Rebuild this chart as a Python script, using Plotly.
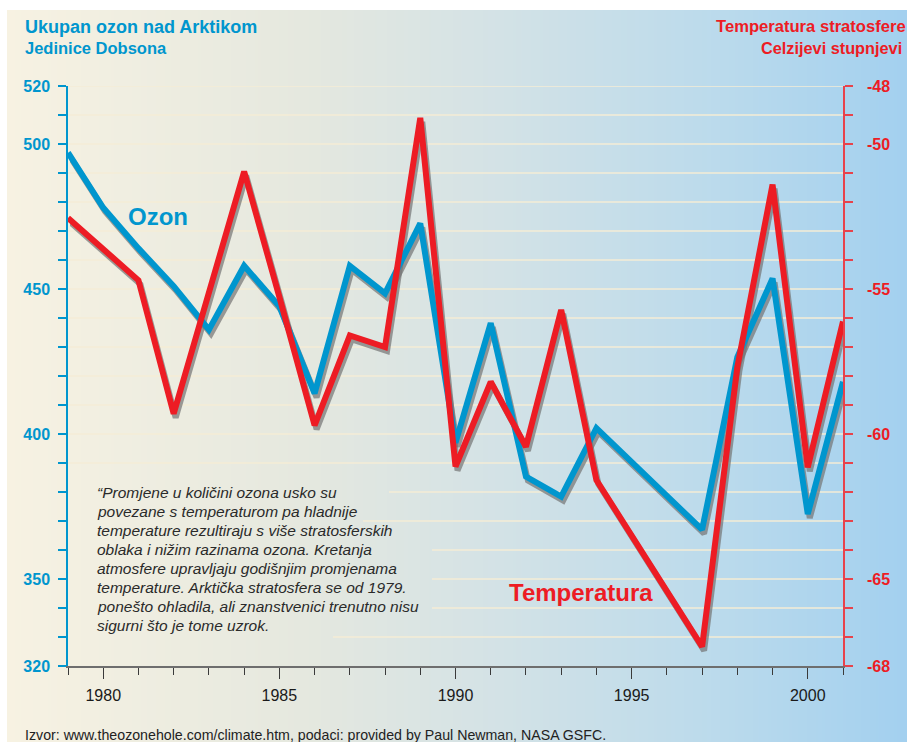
import base64
import struct
import zlib

import plotly.graph_objects as go

# ---------------- data ----------------
years = list(range(1979, 2002))
ozone_du = [497, 478, 464, 451, 436, 458, 444, 414, 458, 448.5, 472.6, 397, 438.2,
            385.3, 378.4, 402, None, None, 367, 426.5, 453.6, 372.4, 418]
temp_c = [-52.55, -53.6, -54.7, -59.3, -55.1, -50.95, -55.27, -59.7, -56.6, -57.0,
          -49.1, -61.12, -58.2, -60.44, -55.72, -61.59, None, None, -67.33, -57.7,
          -51.4, -61.15, -56.12]

ozone_ticks = [320, 350, 400, 450, 500, 520]
temp_ticks = [-68, -65, -60, -55, -50, -48]
temp_ticktext = ["-68", "-65", "-60", "-55", "-50", "-48"]
grid_values = [330, 340, 350, 360, 370, 380, 390, 400, 410, 420, 430, 440, 450,
               460, 470, 480, 490, 500, 510, 520]

title_left = ["Ukupan ozon nad Arktikom", "Jedinice Dobsona"]
title_right = ["Temperatura stratosfere", "Celzijevi stupnjevi"]
quote_lines = [
    "“Promjene u količini ozona usko su",
    "povezane s temperaturom pa hladnije",
    "temperature rezultiraju s više stratosferskih",
    "oblaka i nižim razinama ozona. Kretanja",
    "atmosfere upravljaju godišnjim promjenama",
    "temperature. Arktička stratosfera se od 1979.",
    "ponešto ohladila, ali znanstvenici trenutno nisu",
    "sigurni što je tome uzrok.",
]
source_text = "Izvor: www.theozonehole.com/climate.htm, podaci: provided by Paul Newman, NASA GSFC."

# ---------------- style ----------------
W, H = 907, 742
L, T = 68, 86
PW, PH = 777, 584          # plot area incl. shadow offset
DX, DY = 2, 4              # shadow offset in px
BLUE = "#0096CE"
RED = "#ED1C24"
RED_AXIS = "#E8424B"
SHADOW = "rgba(115,115,115,0.7)"
FONT = "Liberation Sans"


def px(x):
    return (x - L) / PW


def py(y):
    return (T + PH - y) / PH


def gradient_png(stops, w=300):
    row = b"\x00"
    for i in range(w):
        t = i / (w - 1)
        for k in range(len(stops) - 1):
            t0, c0 = stops[k]
            t1, c1 = stops[k + 1]
            if t0 <= t <= t1:
                f = (t - t0) / (t1 - t0)
                c = [round(c0[j] + (c1[j] - c0[j]) * f) for j in range(3)]
                break
        row += bytes(c)

    def chunk(tag, data):
        return (struct.pack(">I", len(data)) + tag + data
                + struct.pack(">I", zlib.crc32(tag + data) & 0xFFFFFFFF))

    png = (b"\x89PNG\r\n\x1a\n"
           + chunk(b"IHDR", struct.pack(">IIBBBBB", w, 1, 8, 2, 0, 0, 0))
           + chunk(b"IDAT", zlib.compress(row))
           + chunk(b"IEND", b""))
    return "data:image/png;base64," + base64.b64encode(png).decode()


bg = gradient_png([
    (0.0, (247, 242, 226)),
    (0.33, (229, 232, 223)),
    (0.55, (211, 226, 230)),
    (0.8, (186, 218, 236)),
    (1.0, (163, 208, 239)),
])

fig = go.Figure()

# shadows (first subplot, drawn underneath)
fig.add_trace(go.Scatter(x=years, y=ozone_du, xaxis="x", yaxis="y", mode="lines",
                         connectgaps=True, line=dict(color=SHADOW, width=6),
                         hoverinfo="skip", showlegend=False))
fig.add_trace(go.Scatter(x=years, y=temp_c, xaxis="x", yaxis="y2", mode="lines",
                         connectgaps=True, line=dict(color=SHADOW, width=6),
                         hoverinfo="skip", showlegend=False))
# main lines (second subplot, drawn on top)
fig.add_trace(go.Scatter(x=years, y=ozone_du, xaxis="x2", yaxis="y3", mode="lines",
                         connectgaps=True, line=dict(color=BLUE, width=6),
                         name="Ozon", showlegend=False))
fig.add_trace(go.Scatter(x=years, y=temp_c, xaxis="x2", yaxis="y4", mode="lines",
                         connectgaps=True, line=dict(color=RED, width=6),
                         name="Temperatura", showlegend=False))

# gridlines (partly hidden behind the quote)
grid_start = {380: 389, 370: 363, 360: 432, 350: 432, 340: 432, 330: 333}
shapes = []
for v in grid_values:
    x0 = px(grid_start.get(v, L))
    shapes.append(dict(type="line", xref="paper", yref="y3", x0=x0, x1=px(843),
                       y0=v, y1=v, layer="below",
                       line=dict(color="#F4EDD6", width=1.6)))

annotations = []
annotations.append(dict(text=title_left[0], x=px(23), y=py(27), xanchor="left",
                        yanchor="middle", font=dict(family=FONT, size=18, color=BLUE, weight="bold")))
annotations.append(dict(text=title_left[1], x=px(23), y=py(48), xanchor="left",
                        yanchor="middle", font=dict(family=FONT, size=16.5, color=BLUE, weight="bold")))
annotations.append(dict(text=title_right[0], x=px(908), y=py(27), xanchor="right",
                        yanchor="middle", font=dict(family=FONT, size=16.6, color=RED, weight="bold")))
annotations.append(dict(text=title_right[1], x=px(904), y=py(48), xanchor="right",
                        yanchor="middle", font=dict(family=FONT, size=16.3, color=RED, weight="bold")))
annotations.append(dict(text="Ozon", x=px(158), y=py(216), xanchor="center",
                        yanchor="middle", font=dict(family=FONT, size=24, color=BLUE, weight="bold")))
annotations.append(dict(text="Temperatura", x=px(581), y=py(592), xanchor="center",
                        yanchor="middle", font=dict(family=FONT, size=24, color=RED, weight="bold")))
for i, line in enumerate(quote_lines):
    annotations.append(dict(text=line, x=px(95), y=py(492.5 + 19 * i), xanchor="left",
                            yanchor="middle",
                            font=dict(family=FONT, size=15.5, color="#2a2a2a", style="italic")))
annotations.append(dict(text=source_text, x=px(23), y=py(735), xanchor="left",
                        yanchor="middle", font=dict(family=FONT, size=14.2, color="#222222")))
for a in annotations:
    a.update(xref="paper", yref="paper", showarrow=False)

fig.update_layout(
    width=W, height=H, autosize=False,
    margin=dict(l=L, r=W - L - PW, t=T, b=H - T - PH, pad=0),
    paper_bgcolor="white", plot_bgcolor="rgba(0,0,0,0)",
    showlegend=False,
    images=[dict(source=bg, xref="paper", yref="paper", x=px(7), y=py(10),
                 sizex=(W - 7) / PW, sizey=(H - 10) / PH, sizing="stretch",
                 xanchor="left", yanchor="top", layer="below")],
    shapes=shapes,
    annotations=annotations,
    # shadow axes (hidden, shifted down-right)
    xaxis=dict(domain=[DX / PW, 1], anchor="y", range=[1979, 2001], visible=False),
    yaxis=dict(domain=[0, (PH - DY) / PH], anchor="x", range=[320, 520], visible=False),
    yaxis2=dict(overlaying="y", anchor="x", range=[-68, -48], visible=False),
    # visible axes
    xaxis2=dict(domain=[0, (PW - DX) / PW], anchor="y3", range=[1979, 2001],
                tickmode="linear", tick0=1980, dtick=5, ticks="outside", ticklen=11,
                tickwidth=1, tickcolor="#3a3a3a",
                showline=True, linecolor="#6e6e6e", linewidth=2,
                showgrid=False, zeroline=False, ticklabelstandoff=3,
                tickfont=dict(family=FONT, size=16, color="#1a1a1a"),
                minor=dict(tick0=1979, dtick=1, ticks="outside", ticklen=7,
                           tickcolor="#3a3a3a", tickwidth=1, showgrid=False)),
    yaxis3=dict(domain=[DY / PH, 1], anchor="x2", range=[320, 520],
                tickmode="array", tickvals=ozone_ticks, ticks="outside", ticklen=8,
                tickwidth=1.5, tickcolor=BLUE, showline=True, linecolor=BLUE,
                linewidth=1.5, showgrid=False, zeroline=False, ticklabelstandoff=5,
                tickfont=dict(family=FONT, size=16, color=BLUE, weight="bold"),
                minor=dict(tick0=320, dtick=10, ticks="outside", ticklen=8,
                           tickcolor=BLUE, tickwidth=1.5, showgrid=False)),
    yaxis4=dict(overlaying="y3", side="right", anchor="x2", range=[-68, -48],
                tickmode="array", tickvals=temp_ticks, ticktext=temp_ticktext,
                ticks="outside", ticklen=8, tickwidth=1.5, tickcolor=RED_AXIS,
                showline=True, linecolor=RED_AXIS, linewidth=1.5,
                showgrid=False, zeroline=False, ticklabelstandoff=11,
                tickfont=dict(family=FONT, size=16, color=RED, weight="bold"),
                minor=dict(tick0=-68, dtick=1, ticks="outside", ticklen=8,
                           tickcolor=RED_AXIS, tickwidth=1.5, showgrid=False)),
)

fig.write_html("out.html", config={"displayModeBar": False},
               post_script="document.body.style.margin='0';")
